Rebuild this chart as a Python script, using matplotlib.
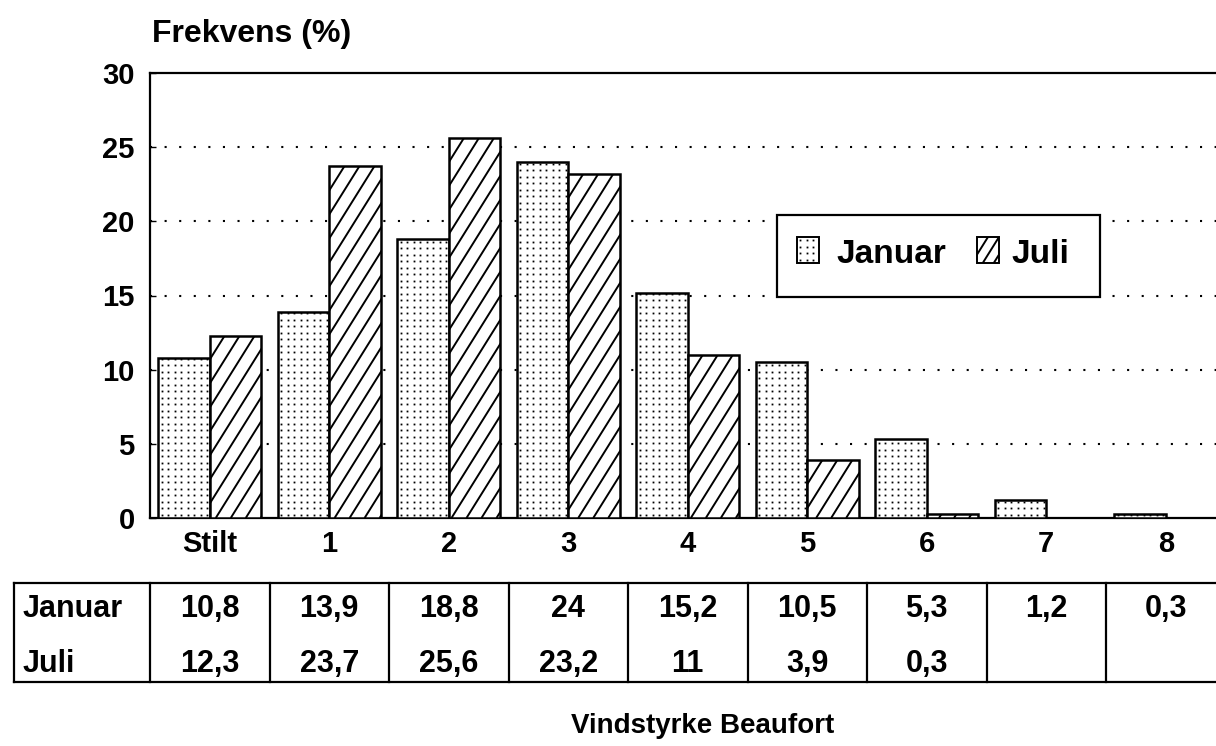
import matplotlib
matplotlib.use("Agg")
import matplotlib.pyplot as plt
from matplotlib.patches import Rectangle
from matplotlib.collections import LineCollection
from matplotlib.lines import Line2D
from matplotlib.transforms import IdentityTransform, blended_transform_factory
import numpy as np

plt.rcParams['font.family'] = ['Liberation Sans', 'DejaVu Sans']

categories = ["Stilt", "1", "2", "3", "4", "5", "6", "7", "8"]
januar = [10.8, 13.9, 18.8, 24, 15.2, 10.5, 5.3, 1.2, 0.3]
juli = [12.3, 23.7, 25.6, 23.2, 11, 3.9, 0.3, None, None]
januar_txt = ["10,8", "13,9", "18,8", "24", "15,2", "10,5", "5,3", "1,2", "0,3"]
juli_txt = ["12,3", "23,7", "25,6", "23,2", "11", "3,9", "0,3", "", ""]
yticks = [0, 5, 10, 15, 20, 25, 30]


def fill_lines(ax, patch, spacing=15, angle=58, lw=1.4):
    # steep diagonal hatch, drawn in pixels and clipped to the patch
    bb = patch.get_window_extent()
    run = bb.height / np.tan(np.radians(angle))
    starts = np.arange(bb.x0 - run, bb.x1, spacing)
    segs = [[(s, bb.y0), (s + run, bb.y1)] for s in starts]
    lc = LineCollection(segs, colors="black", linewidths=lw, transform=IdentityTransform(),
                        zorder=patch.get_zorder() + 0.1)
    ax.add_collection(lc, autolim=False)
    lc.set_clip_path(patch)  # after adding, or the axes overrides it


def fill_dots(ax, patch, spacing=6.5, size=1.3):
    bb = patch.get_window_extent()
    xs = np.arange(bb.x0 + spacing / 2, bb.x1, spacing)
    ys = np.arange(bb.y0 + spacing / 2, bb.y1, spacing)
    X, Y = np.meshgrid(xs, ys)
    dots = Line2D(X.ravel(), Y.ravel(), linestyle="none", marker="s", markersize=size,
                  markeredgewidth=0, color="black", transform=IdentityTransform(),
                  zorder=patch.get_zorder() + 0.1)
    ax.add_line(dots)
    dots.set_clip_path(patch)


fig = plt.figure(figsize=(12.16, 7.46), dpi=100)
ax = fig.add_axes([150 / 1216, 1 - 518 / 746, 1 - 150 / 1216, 445 / 746])
ax.set_xlim(-0.5, 8.42)
ax.set_ylim(0, 30)
ax.set_autoscale_on(False)

x = np.arange(len(categories))
w = 0.43
jan_bars = ax.bar(x - w / 2, januar, w, facecolor="white", edgecolor="black", linewidth=1.8, zorder=3)
for b in jan_bars:
    fill_dots(ax, b)
for xi, v in zip(x, juli):
    if v is None:
        continue
    b = ax.bar(xi + w / 2, v, w, facecolor="white", edgecolor="black", linewidth=1.8, zorder=3)[0]
    fill_lines(ax, b)

ax.set_yticks(yticks)
ax.set_yticklabels([str(t) for t in yticks], fontsize=21, fontweight="bold")
ax.set_xticks(x)
ax.set_xticklabels(categories, fontsize=21, fontweight="bold")
ax.tick_params(axis="x", length=0, pad=9)
ax.tick_params(axis="y", length=4, width=1, pad=11, direction="in")
for t in yticks[1:-1]:
    ax.axhline(t, color="black", linestyle=(0, (1, 6)), linewidth=1.5, zorder=1)
ax.spines["right"].set_visible(False)
for s in ["left", "top", "bottom"]:
    ax.spines[s].set_linewidth(1.6)

fig.text(152 / 1216, 1 - 42 / 746, "Frekvens (%)", fontsize=23, fontweight="bold", va="baseline", ha="left")
fig.text(703 / 1216, 1 - 733 / 746, "Vindstyrke Beaufort", fontsize=20, fontweight="bold",
         va="baseline", ha="center")

# legend box, drawn by hand in axes fractions
def axf(px, py):
    return (px - 150) / 1066, (518 - py) / 445

lx0, ly0 = axf(777, 297)
lx1, ly1 = axf(1100, 215)
frame = Rectangle((lx0, ly0), lx1 - lx0, ly1 - ly0, transform=ax.transAxes, facecolor="white",
                  edgecolor="black", linewidth=1.6, zorder=5)
ax.add_patch(frame)
jx, jy = axf(797, 263)
jx1, jy1 = axf(819, 237)
sq_jan = Rectangle((jx, jy), jx1 - jx, jy1 - jy, transform=ax.transAxes, facecolor="white",
                   edgecolor="black", linewidth=1.4, zorder=6)
ax.add_patch(sq_jan)
kx, ky = axf(977, 263)
kx1, ky1 = axf(999, 237)
sq_jul = Rectangle((kx, ky), kx1 - kx, ky1 - ky, transform=ax.transAxes, facecolor="white",
                   edgecolor="black", linewidth=1.4, zorder=6)
ax.add_patch(sq_jul)
fill_dots(ax, sq_jan)
fill_lines(ax, sq_jul, spacing=11)
tx, ty = axf(836, 263)
ax.text(tx, ty, "Januar", fontsize=24, fontweight="bold", va="baseline", ha="left",
        transform=ax.transAxes, zorder=7)
tx, ty = axf(1011, 263)
ax.text(tx, ty, "Juli", fontsize=24, fontweight="bold", va="baseline", ha="left",
        transform=ax.transAxes, zorder=7)

# table below the axis
trans = blended_transform_factory(ax.transData, ax.transAxes)
y_top, y_bot = -0.146, -0.3685
y_jan, y_jul = -0.2225, -0.3461
x_left, x_right = -1.64, 8.6
for yy in [y_top, y_bot]:
    ax.plot([x_left, x_right], [yy, yy], color="black", linewidth=1.6, transform=trans, clip_on=False)
for xv in [x_left] + [k - 0.5 for k in range(len(categories))]:
    ax.plot([xv, xv], [y_top, y_bot], color="black", linewidth=1.6, transform=trans, clip_on=False)
ax.text(-1.57, y_jan, "Januar", fontsize=22, fontweight="bold", va="baseline", ha="left", transform=trans)
ax.text(-1.57, y_jul, "Juli", fontsize=22, fontweight="bold", va="baseline", ha="left", transform=trans)
for k in range(len(categories)):
    ax.text(k, y_jan, januar_txt[k], fontsize=22, fontweight="bold", va="baseline", ha="center",
            transform=trans)
    ax.text(k, y_jul, juli_txt[k], fontsize=22, fontweight="bold", va="baseline", ha="center",
            transform=trans)

fig.savefig("out.png", dpi=100)
